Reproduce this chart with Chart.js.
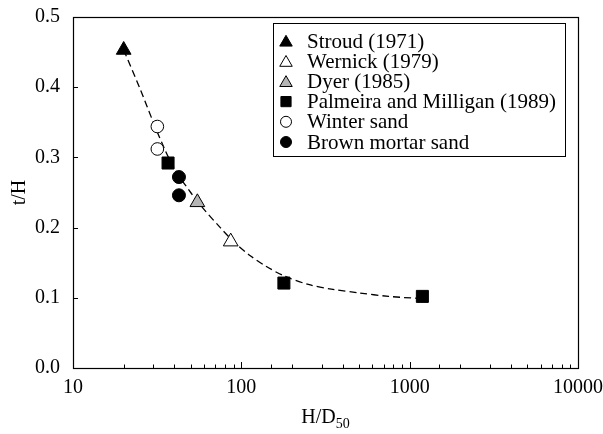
<!DOCTYPE html>
<html>
<head>
<meta charset="utf-8">
<script src="https://cdn.jsdelivr.net/npm/chart.js@4/dist/chart.umd.min.js"></script>
<style>
html, body { margin: 0; padding: 0; background: #fff; }
canvas { display: block; }
</style>
</head>
<body>
<canvas id="grafico" width="603" height="434"></canvas>
<script>
// Datos (H/D50 frente a t/H)
const strowdX = [20];
const strowdY = [0.453];
const wernickX = [86.5];
const wernickY = [0.180];
const dyerX = [54.8];
const dyerY = [0.236];
const palmeiraX = [36.7, 179, 1190];
const palmeiraY = [0.292, 0.121, 0.102];
const winterX = [31.7, 31.7];
const winterY = [0.344, 0.312];
const brownX = [42.6, 42.6];
const brownY = [0.272, 0.246];

// Curva de ajuste (línea discontinua)
const curvaX = [20, 25, 30, 35, 40, 50, 60, 75, 90, 113, 140, 180, 250, 350, 500, 750, 1150];
const curvaY = [0.453, 0.398, 0.350, 0.312, 0.284, 0.250, 0.226, 0.200, 0.180, 0.160, 0.145, 0.131, 0.119, 0.112, 0.107, 0.102, 0.099];

const yTicks = [0, 0.1, 0.2, 0.3, 0.4, 0.5];

const etiquetas = ['Stroud (1971)', 'Wernick (1979)', 'Dyer (1985)',
  'Palmeira and Milligan (1989)', 'Winter sand', 'Brown mortar sand'];

const FUENTE = "'Liberation Serif', 'DejaVu Serif', serif";

function puntos(xs, ys) {
  return xs.map((x, i) => ({ x: x, y: ys[i] }));
}

function serie(label, xs, ys, estilo, relleno, radio) {
  return {
    label: label,
    data: puntos(xs, ys),
    pointStyle: estilo,
    pointRadius: radio,
    pointHoverRadius: radio,
    backgroundColor: relleno,
    borderColor: '#000',
    pointBorderWidth: 1,
    showLine: false
  };
}

const datasets = [
  serie(etiquetas[0], strowdX, strowdY, 'triangle', '#000', 8.5),
  serie(etiquetas[1], wernickX, wernickY, 'triangle', '#fff', 8.5),
  serie(etiquetas[2], dyerX, dyerY, 'triangle', '#b4b4b4', 8.5),
  serie(etiquetas[3], palmeiraX, palmeiraY, 'rect', '#000', 8.5),
  serie(etiquetas[4], winterX, winterY, 'circle', '#fff', 6.3),
  serie(etiquetas[5], brownX, brownY, 'circle', '#000', 6.5),
  {
    type: 'line',
    label: 'ajuste',
    data: puntos(curvaX, curvaY),
    borderColor: '#000',
    borderWidth: 1.3,
    borderDash: [7, 4],
    pointRadius: 0,
    fill: false,
    tension: 0.3
  }
];

function esPotencia(v) {
  const l = Math.log10(v);
  return Math.abs(l - Math.round(l)) < 1e-9;
}

// Marco, marcas interiores, títulos de ejes y leyenda
const marco = {
  id: 'marco',
  afterDraw(chart) {
    const ctx = chart.ctx;
    const a = chart.chartArea;
    const sx = chart.scales.x;
    const sy = chart.scales.y;
    ctx.save();
    ctx.strokeStyle = '#000';
    ctx.lineWidth = 1.2;
    ctx.strokeRect(Math.round(a.left) + 0.5, Math.round(a.top) + 0.5,
      Math.round(a.right - a.left), Math.round(a.bottom - a.top));

    ctx.lineWidth = 1;
    ctx.beginPath();
    sx.ticks.forEach(t => {
      const px = Math.round(sx.getPixelForValue(t.value)) + 0.5;
      const largo = esPotencia(t.value) ? 6 : 3.5;
      ctx.moveTo(px, a.bottom);
      ctx.lineTo(px, a.bottom - largo);
    });
    sy.ticks.forEach(t => {
      const py = Math.round(sy.getPixelForValue(t.value)) + 0.5;
      ctx.moveTo(a.left, py);
      ctx.lineTo(a.left + 5, py);
    });
    ctx.stroke();

    // título eje x: H/D50
    ctx.fillStyle = '#000';
    ctx.textBaseline = 'alphabetic';
    const t1 = 'H/D';
    ctx.font = '14px ' + FUENTE;
    const w2 = ctx.measureText('50').width;
    ctx.font = '20px ' + FUENTE;
    const w1 = ctx.measureText(t1).width;
    const cx = (a.left + a.right) / 2;
    const x0 = cx - (w1 + w2) / 2;
    ctx.textAlign = 'left';
    ctx.fillText(t1, x0, 423);
    ctx.font = '14px ' + FUENTE;
    ctx.fillText('50', x0 + w1, 428);

    // título eje y: t/H
    ctx.save();
    ctx.translate(20, (a.top + a.bottom) / 2);
    ctx.rotate(-Math.PI / 2);
    ctx.font = '20px ' + FUENTE;
    ctx.textAlign = 'center';
    ctx.textBaseline = 'middle';
    ctx.fillText('t/H', 0, 0);
    ctx.restore();

    // leyenda
    const lx = 273.5, ly = 23.5, lw = 292, lh = 133;
    ctx.fillStyle = '#fff';
    ctx.fillRect(lx, ly, lw, lh);
    ctx.strokeStyle = '#000';
    ctx.lineWidth = 1;
    ctx.strokeRect(lx, ly, lw, lh);
    ctx.font = '21px ' + FUENTE;
    ctx.textAlign = 'left';
    ctx.textBaseline = 'middle';
    for (let i = 0; i < 6; i++) {
      const ds = chart.data.datasets[i];
      const yy = 41 + i * 20.2;
      ctx.fillStyle = ds.backgroundColor;
      ctx.strokeStyle = '#000';
      ctx.lineWidth = 1;
      Chart.helpers.drawPoint(ctx, {
        pointStyle: ds.pointStyle,
        radius: ds.pointStyle === 'circle' ? 5.5 : 7.2,
        borderWidth: 1,
        rotation: 0
      }, 286, ds.pointStyle === 'triangle' ? yy + 1.5 : yy);
      ctx.fillStyle = '#000';
      ctx.fillText(etiquetas[i], 307, yy + 1);
    }
    ctx.restore();
  }
};

new Chart(document.getElementById('grafico'), {
  type: 'scatter',
  data: { datasets: datasets },
  options: {
    responsive: false,
    animation: false,
    layout: { padding: { top: 15, right: 25, left: 0, bottom: 0 } },
    plugins: {
      legend: { display: false },
      tooltip: { enabled: false }
    },
    scales: {
      x: {
        type: 'logarithmic',
        min: 10,
        max: 10000,
        grid: { display: false },
        border: { display: false },
        ticks: {
          autoSkip: false,
          maxRotation: 0,
          padding: 0,
          color: '#000',
          font: { family: FUENTE, size: 20 },
          callback: function (v) { return esPotencia(v) ? String(Math.round(v)) : ''; }
        },
        afterFit: function (s) { s.height = 66; }
      },
      y: {
        min: 0,
        max: 0.5,
        grid: { display: false },
        border: { display: false },
        afterBuildTicks: function (s) { s.ticks = yTicks.map(v => ({ value: v })); },
        ticks: {
          padding: 5,
          color: '#000',
          font: { family: FUENTE, size: 20 },
          callback: function (v) { return v.toFixed(1); }
        },
        afterFit: function (s) { s.width = 73; }
      }
    }
  },
  plugins: [marco]
});
</script>
</body>
</html>
